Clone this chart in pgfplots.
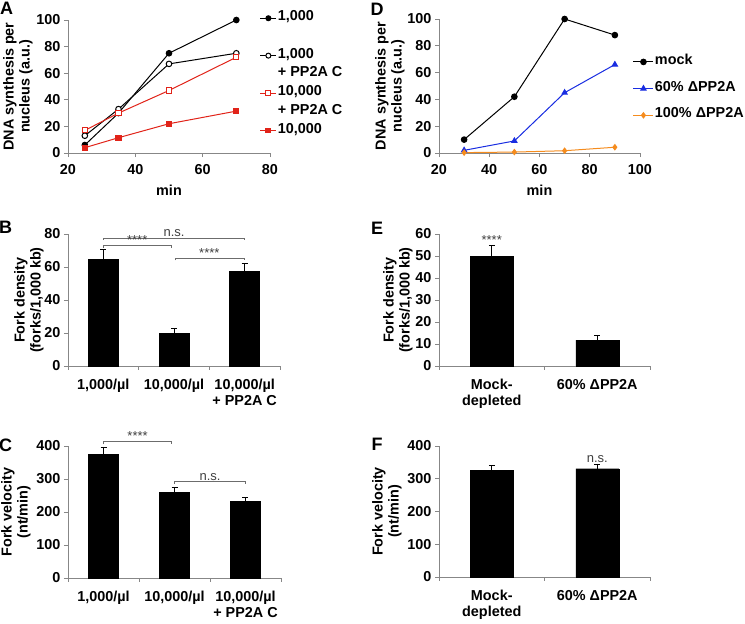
\documentclass[border=0pt]{standalone}
\usepackage{pgfplots}
\pgfplotsset{compat=1.18}
\usepackage{fontspec}
\setmainfont{Liberation Sans}
\definecolor{myred}{RGB}{225,35,25}
\definecolor{myblue}{RGB}{25,45,225}
\definecolor{myorange}{RGB}{245,140,30}
\definecolor{axgray}{RGB}{135,135,135}
\newcommand{\fs}{\fontsize{14.4}{16}\selectfont\bfseries}
\newcommand{\fsn}{\fontsize{13}{14}\selectfont}
\newcommand{\fl}{\fontsize{18}{18}\selectfont\bfseries}
\protected\def\mul{\char"00B5 l}
\protected\def\dpp{60\% \char"0394 PP2A}
\protected\def\dppc{100\% \char"0394 PP2A}
\tikzset{brk/.style={axgray!80!black, line width=0.7pt}}
\pgfplotsset{
  base/.style={scale only axis, anchor=south west,
    axis x line*=bottom, axis y line*=left,
    axis line style={axgray, line width=0.7pt},
    tick style={axgray, line width=0.7pt},
    tick align=outside, major tick length=4pt,
    tick label style={font=\fs}, label style={font=\fs},
    xticklabel style={yshift=-4pt},
    xlabel style={yshift=-3pt},
    /pgf/number format/assume math mode=true, clip=false,
    ymin=0},
  bars/.style={base, xtick style={draw=none},
    xticklabel style={align=center, yshift=-2pt}, ylabel style={align=center}},
  barplot/.style={ybar, bar width=#1, fill=black, draw=black,
    error bars/.cd, y dir=plus, y explicit,
    error bar style={black, line width=0.8pt},
    error mark options={black, rotate=90, mark size=3pt, line width=0.8pt}},
}
\begin{document}
\begin{tikzpicture}
\useasboundingbox (0,0) rectangle (745pt,-624pt);
% ---------- A ----------
\begin{axis}[base, at={(68pt,-153pt)}, width=202pt, height=133pt,
  xmin=20, xmax=80, ymax=100, xtick={20,40,60,80}, ytick={0,20,...,100},
  xlabel={min}, ylabel={DNA synthesis per\\nucleus (a.u.)}, ylabel style={align=center}, ylabel shift=-3pt,
  legend cell align=left,
  legend image code/.code={\draw[mark repeat=2,mark phase=2] plot coordinates {(0pt,0pt) (8pt,0pt) (16pt,0pt)};},
  legend style={draw=none, fill=none, at={(0.949,1.085)}, anchor=north west, font=\fs,
    inner sep=0pt, row sep=0pt, column sep=0pt, nodes={inner sep=1pt, text height=11pt, text depth=5.7pt}}]
\addplot[forget plot, black, line width=1pt, mark=*, mark size=2.8pt] coordinates {(25,6) (35,30) (50,75) (70,100)};
\addplot[forget plot, black, line width=1pt, mark=*, mark size=2.8pt, mark options={fill=white}] coordinates {(25,13) (35,33) (50,67) (70,75)};
\addplot[forget plot, myred, line width=1pt, mark=square*, mark size=2.6pt, mark options={fill=white}] coordinates {(25,17) (35,30) (50,47) (70,72)};
\addplot[forget plot, myred, line width=1pt, mark=square*, mark size=2.6pt] coordinates {(25,4) (35,11.5) (50,22) (70,31.5)};
\addlegendimage{black, line width=1pt, mark=*, mark size=2.5pt}
\addlegendentry{1,000}
\addlegendimage{empty legend}
\addlegendentry{}
\addlegendimage{black, line width=1pt, mark=*, mark size=2.5pt, mark options={fill=white}}
\addlegendentry{1,000}
\addlegendimage{empty legend}
\addlegendentry{+ PP2A C}
\addlegendimage{myred, line width=1pt, mark=square*, mark size=2.4pt, mark options={fill=white}}
\addlegendentry{10,000}
\addlegendimage{empty legend}
\addlegendentry{+ PP2A C}
\addlegendimage{myred, line width=1pt, mark=square*, mark size=2.4pt}
\addlegendentry{10,000}
\end{axis}
% ---------- D ----------
\begin{axis}[base, at={(439pt,-153pt)}, width=201pt, height=134pt,
  xmin=20, xmax=100, ymax=100, xtick={20,40,...,100}, ytick={0,20,...,100},
  xlabel={min}, ylabel={DNA synthesis per\\nucleus (a.u.)}, ylabel style={align=center}, ylabel shift=-4pt,
  legend cell align=left,
  legend image code/.code={\draw[mark repeat=2,mark phase=2] plot coordinates {(0pt,0pt) (10pt,0pt) (20pt,0pt)};},
  legend style={draw=none, fill=none, at={(0.964,0.751)}, anchor=north west, font=\fs,
    inner sep=0pt, row sep=8pt, column sep=0pt, nodes={inner sep=1pt, text height=11pt, text depth=5.7pt}}]
\addplot[black, line width=1pt, mark=*, mark size=2.8pt] coordinates {(30,10) (50,42) (70,100) (90,88)};
\addlegendentry{mock}
\addplot[myblue, line width=1pt, mark=triangle*, mark size=3pt] coordinates {(30,2) (50,9) (70,45) (90,66)};
\addlegendentry{\dpp}
\addplot[myorange, line width=1pt, mark=diamond*, mark size=2.6pt] coordinates {(30,0.3) (50,0.7) (70,1.7) (90,4.3)};
\addlegendentry{\dppc}
\end{axis}
% ---------- B ----------
\begin{axis}[bars, at={(68pt,-366pt)}, width=212pt, height=132pt,
  xmin=-0.5, xmax=2.5, ymax=80, xtick={0,1,2}, ytick={0,20,...,80},
  xticklabels={{1,000/\mul},{10,000/\mul},{10,000/\mul\\+ PP2A C}},
  ylabel={Fork density\\(forks/1,000 kb)}, ylabel shift=-6pt]
\addplot[barplot=30pt] coordinates {(0,64.8) +- (0,5.8) (1,20) +- (0,2.6) (2,57.5) +- (0,4.5)};
\pgfplotsinvokeforeach{-0.5,0.5,1.5,2.5}{\draw[axgray, line width=0.7pt] (axis cs:#1,0) -- ++(0pt,-4pt);}
\draw[brk] (axis cs:0,76.4) -- (axis cs:0,77.6) -- (axis cs:2,77.6) -- (axis cs:2,76.4);
\node[font=\fsn, anchor=base, text=black!75, inner sep=0pt] at (axis cs:1,78.3) {n.s.};
\draw[brk] (axis cs:0,71.6) -- (axis cs:0,73.3) -- (axis cs:0.96,73.3) -- (axis cs:0.96,71.6);
\node[font=\fsn, anchor=base, text=black!75, inner sep=0pt] at (axis cs:0.48,73.6) {****};
\draw[brk] (axis cs:1.02,64) -- (axis cs:1.02,65.3) -- (axis cs:2,65.3) -- (axis cs:2,64);
\node[font=\fsn, anchor=base, text=black!75, inner sep=0pt] at (axis cs:1.5,65.6) {****};
\end{axis}
% ---------- E ----------
\begin{axis}[bars, at={(439pt,-366pt)}, width=211pt, height=132pt,
  xmin=-0.5, xmax=1.5, ymax=60, xtick={0,1}, ytick={0,10,...,60},
  xticklabels={{Mock-\\depleted},{\dpp}},
  ylabel={Fork density\\(forks/1,000 kb)}, ylabel shift=-4pt]
\addplot[barplot=43pt] coordinates {(0,50) +- (0,4.6) (1,11.8) +- (0,2.2)};
\pgfplotsinvokeforeach{-0.5,0.5,1.5}{\draw[axgray, line width=0.7pt] (axis cs:#1,0) -- ++(0pt,-4pt);}
\node[font=\fsn, anchor=base, text=black!75, inner sep=0pt] at (axis cs:0,55.2) {****};
\end{axis}
% ---------- C ----------
\begin{axis}[bars, at={(68pt,-578pt)}, width=213pt, height=132pt,
  xmin=-0.5, xmax=2.5, ymax=400, xtick={0,1,2}, ytick={0,100,...,400},
  xticklabels={{1,000/\mul},{10,000/\mul},{10,000/\mul\\+ PP2A C}},
  ylabel={Fork velocity\\(nt/min)}, ylabel shift=-1pt]
\addplot[barplot=30pt] coordinates {(0,375) +- (0,21) (1,260) +- (0,15) (2,233) +- (0,10)};
\pgfplotsinvokeforeach{-0.5,0.5,1.5,2.5}{\draw[axgray, line width=0.7pt] (axis cs:#1,0) -- ++(0pt,-4pt);}
\draw[brk] (axis cs:0,405) -- (axis cs:0,413) -- (axis cs:0.96,413) -- (axis cs:0.96,405);
\node[font=\fsn, anchor=base, text=black!75, inner sep=0pt] at (axis cs:0.48,416) {****};
\draw[brk] (axis cs:1,285) -- (axis cs:1,292) -- (axis cs:2,292) -- (axis cs:2,285);
\node[font=\fsn, anchor=base, text=black!75, inner sep=0pt] at (axis cs:1.5,295) {n.s.};
\end{axis}
% ---------- F ----------
\begin{axis}[bars, at={(439pt,-577pt)}, width=211pt, height=131pt,
  xmin=-0.5, xmax=1.5, ymax=400, xtick={0,1}, ytick={0,100,...,400},
  xticklabels={{Mock-\\depleted},{\dpp}},
  ylabel={Fork velocity\\(nt/min)}, ylabel shift=-1pt]
\addplot[barplot=43pt] coordinates {(0,324.6) +- (0,15) (1,330.7) +- (0,14.5)};
\pgfplotsinvokeforeach{-0.5,0.5,1.5}{\draw[axgray, line width=0.7pt] (axis cs:#1,0) -- ++(0pt,-4pt);}
\node[font=\fsn, anchor=base, text=black!75, inner sep=0pt] at (axis cs:1,349) {n.s.};
\end{axis}
% ---------- panel letters ----------
\node[font=\fl, inner sep=0pt] at (6.5pt,-8pt) {A};
\node[font=\fl, inner sep=0pt] at (5.5pt,-227.5pt) {B};
\node[font=\fl, inner sep=0pt] at (5.5pt,-445.5pt) {C};
\node[font=\fl, inner sep=0pt] at (377pt,-9pt) {D};
\node[font=\fl, inner sep=0pt] at (377pt,-228pt) {E};
\node[font=\fl, inner sep=0pt] at (377pt,-444.5pt) {F};
\end{tikzpicture}
\end{document}
